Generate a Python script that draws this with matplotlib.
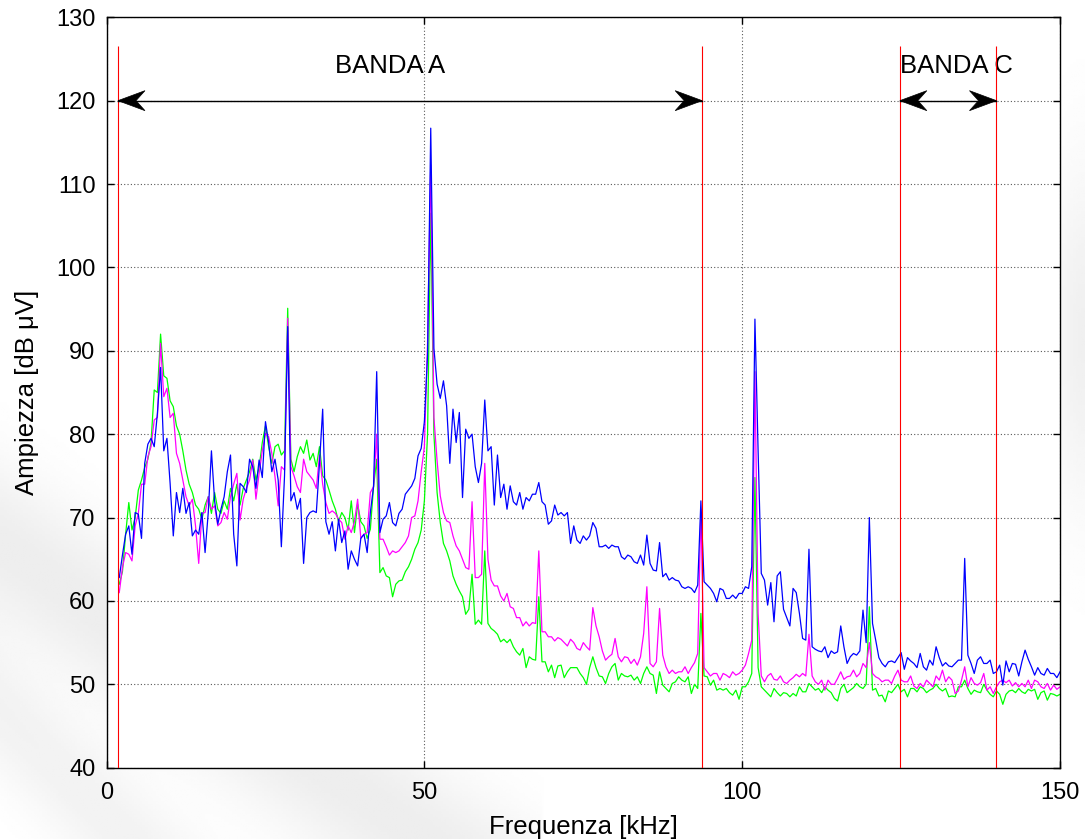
import numpy as np
import matplotlib
matplotlib.use('Agg')
import matplotlib.pyplot as plt
from matplotlib.patches import Polygon

plt.rcParams.update({'font.family': ['Liberation Sans', 'DejaVu Sans'],
                     'font.size': 17,
                     'axes.linewidth': 1.0})

# frequency bins [kHz], 0.5 kHz spacing
freq = np.arange(2.0, 150.25, 0.5)

amp_blue = [
    62.8, 65.5, 68.0, 69.0, 65.6, 70.6, 70.4, 67.5, 76.5, 78.8, 79.5, 78.5, 82.5, 88.0, 78.0, 79.5,
    74.1, 67.8, 73.0, 70.6, 73.5, 70.5, 71.8, 67.8, 68.5, 68.0, 70.6, 65.8, 70.6, 78.0, 72.0, 69.2, 71.0, 72.5, 75.5, 77.5,
    68.0, 64.2, 74.1, 73.7, 73.0, 77.0, 76.1, 73.5, 76.9, 74.8, 81.5, 79.0, 75.5, 77.0, 74.5, 66.5, 75.0, 92.9, 72.0, 73.0,
    71.0, 72.3, 64.5, 70.0, 70.6, 70.8, 70.6, 76.5, 83.0, 69.5, 68.0, 69.5, 66.0, 69.8, 67.0, 68.4, 63.8, 66.0, 65.0, 64.2,
    67.5, 68.0, 65.8, 70.6, 73.7, 87.5, 68.2, 69.8, 70.2, 71.8, 69.4, 69.0, 70.5, 71.0, 72.8, 73.3, 73.8, 74.7, 77.4, 78.3,
    81.5, 89.5, 116.7, 90.3, 86.0, 84.3, 86.4, 83.4, 76.5, 83.0, 79.0, 82.6, 72.4, 80.6, 79.5, 80.0, 76.1, 74.2, 76.5, 84.1,
    78.0, 78.5, 71.5, 77.5, 72.4, 74.0, 71.0, 73.8, 71.9, 71.5, 73.0, 71.0, 72.4, 72.0, 72.8, 72.8, 74.2, 71.9, 71.5, 69.2,
    69.6, 71.5, 70.3, 70.6, 70.2, 70.6, 66.9, 69.0, 67.3, 66.9, 67.8, 67.3, 67.8, 69.4, 68.7, 66.5, 66.5, 66.7, 66.3, 66.7,
    66.5, 66.5, 65.3, 65.0, 65.5, 65.3, 64.7, 64.5, 65.5, 64.3, 67.9, 64.5, 63.7, 63.6, 67.0, 62.9, 63.3, 62.5, 62.8, 62.5,
    62.4, 61.7, 61.5, 61.7, 61.5, 61.0, 61.9, 72.0, 62.3, 61.9, 61.5, 60.9, 59.9, 61.5, 61.3, 60.3, 60.3, 60.7, 60.3, 60.9,
    60.9, 61.7, 61.5, 64.1, 93.8, 78.0, 63.3, 62.5, 59.5, 62.2, 57.5, 63.0, 63.5, 59.0, 58.0, 57.0, 61.5, 61.0, 58.5, 55.5,
    55.3, 66.2, 54.5, 54.2, 54.0, 53.9, 54.5, 53.2, 54.0, 53.7, 53.9, 57.0, 54.5, 52.5, 53.3, 53.7, 53.5, 54.0, 58.9, 55.0,
    70.0, 57.3, 55.3, 53.2, 52.5, 52.1, 52.7, 52.8, 52.6, 53.2, 53.8, 51.8, 53.2, 52.8, 52.5, 52.0, 53.7, 52.1, 51.7, 52.9,
    52.3, 54.5, 53.2, 52.2, 52.6, 52.2, 52.1, 52.5, 52.9, 52.9, 65.1, 53.5, 52.5, 51.3, 52.9, 53.3, 52.5, 52.5, 52.9, 51.3,
    51.5, 52.3, 49.9, 52.8, 51.5, 52.5, 52.4, 51.0, 52.7, 54.1, 53.0, 52.1, 51.1, 52.0, 51.3, 51.1, 51.9, 51.3, 51.3, 50.8,
    51.5]

amp_magenta = [
    61.0, 64.0, 65.8, 65.6, 64.8, 69.0, 70.5, 74.0, 74.0, 77.3, 78.5, 81.7, 82.0, 90.9, 84.5, 85.5,
    82.0, 82.5, 77.7, 76.5, 74.5, 72.5, 71.4, 72.2, 69.0, 64.5, 70.5, 70.6, 72.5, 71.0, 71.4, 69.0, 69.4, 70.6, 69.8, 72.5,
    74.0, 75.3, 69.7, 72.2, 73.5, 74.5, 76.9, 72.2, 75.3, 78.0, 80.1, 79.7, 77.7, 74.9, 71.4, 76.1, 75.7, 93.9, 76.1, 75.0,
    73.7, 73.0, 77.0, 75.5, 75.0, 74.5, 73.5, 77.5, 74.0, 71.8, 70.5, 70.8, 70.5, 69.8, 69.4, 67.4, 69.0, 68.2, 69.5, 72.2,
    67.5, 68.0, 68.2, 73.0, 73.7, 80.0, 67.4, 67.4, 66.5, 65.5, 66.0, 65.8, 66.0, 66.5, 67.0, 67.8, 70.0, 70.2, 72.0, 75.5,
    78.5, 91.0, 112.3, 82.0, 76.8, 72.6, 70.6, 69.6, 69.4, 67.8, 66.6, 66.0, 65.0, 64.0, 63.8, 71.9, 62.8, 62.8, 63.2, 76.5,
    65.0, 62.5, 61.8, 61.8, 60.6, 60.0, 60.9, 59.3, 59.1, 58.0, 58.0, 57.0, 57.5, 57.0, 57.4, 57.3, 66.0, 56.3, 56.3, 55.7,
    55.7, 55.2, 55.6, 55.4, 55.0, 54.6, 55.4, 55.0, 54.3, 54.1, 55.0, 54.5, 54.1, 59.2, 57.0, 55.7, 54.0, 52.9, 53.3, 53.6,
    55.5, 53.3, 52.7, 53.3, 53.2, 52.5, 53.0, 52.3, 53.3, 56.1, 61.7, 52.5, 52.1, 52.7, 59.1, 53.5, 52.1, 51.3, 51.7, 51.3,
    51.5, 51.5, 52.1, 51.3, 52.0, 52.6, 53.7, 71.0, 52.0, 51.5, 51.0, 51.3, 51.3, 50.5, 51.3, 51.1, 50.8, 51.5, 51.1, 51.3,
    51.7, 52.3, 53.7, 55.3, 87.5, 58.5, 51.0, 50.3, 51.0, 51.3, 50.6, 50.5, 51.0, 50.3, 50.1, 50.5, 50.8, 51.2, 50.9, 51.3,
    51.0, 56.0, 51.0, 50.3, 50.0, 50.5, 49.3, 50.5, 50.0, 50.0, 50.7, 51.5, 50.6, 50.9, 51.0, 51.7, 50.9, 51.3, 52.5, 52.0,
    55.0, 51.3, 50.9, 50.7, 50.3, 50.5, 50.5, 50.1, 51.0, 51.7, 50.5, 50.3, 50.3, 51.0, 49.8, 49.5, 50.1, 49.7, 50.5, 50.1,
    49.7, 51.0, 50.5, 51.7, 50.3, 50.9, 50.5, 48.9, 49.2, 50.5, 52.1, 49.7, 50.8, 50.1, 49.9, 50.2, 51.3, 49.3, 49.7, 48.9,
    49.7, 50.3, 50.5, 50.2, 50.5, 49.8, 50.2, 49.7, 50.1, 49.7, 50.5, 49.5, 50.5, 50.3, 49.7, 49.5, 50.1, 49.3, 49.9, 49.4,
    49.7]

amp_green = [
    62.0, 63.5, 68.0, 71.8, 68.5, 70.0, 73.3, 74.5, 76.0, 77.0, 79.0, 85.3, 85.0, 92.0, 87.0, 86.7,
    84.0, 83.3, 81.0, 80.0, 78.0, 75.7, 74.0, 73.0, 71.5, 71.0, 69.8, 71.5, 72.5, 70.5, 73.0, 71.0, 70.5, 72.0, 71.0, 73.5,
    72.0, 74.0, 71.5, 73.5, 74.5, 75.5, 77.0, 74.5, 76.0, 79.0, 81.0, 78.5, 76.5, 78.5, 78.8, 77.5, 78.0, 95.1, 77.0, 75.5,
    77.3, 78.5, 77.7, 79.3, 76.9, 77.7, 76.1, 78.5, 75.0, 74.5, 73.3, 72.0, 71.0, 69.5, 70.6, 70.0, 68.5, 72.0, 68.2, 71.6,
    69.5, 69.0, 67.5, 68.6, 73.7, 77.0, 63.4, 64.0, 63.0, 62.8, 60.5, 62.0, 62.4, 62.5, 63.5, 64.1, 65.0, 66.2, 67.0, 68.5,
    72.0, 80.0, 106.5, 80.0, 73.0, 69.4, 66.9, 66.0, 64.8, 63.0, 62.0, 61.2, 60.5, 58.4, 59.0, 63.2, 57.2, 57.7, 57.2, 66.0,
    57.3, 56.7, 56.4, 56.0, 55.1, 55.4, 55.0, 55.4, 54.5, 53.9, 53.5, 54.3, 52.0, 53.3, 53.0, 52.9, 60.5, 52.7, 52.7, 51.5,
    52.3, 50.8, 52.2, 52.3, 50.8, 51.5, 52.0, 52.0, 52.0, 51.3, 50.8, 50.0, 52.0, 53.3, 52.0, 51.0, 50.9, 50.1, 51.3, 52.1,
    52.5, 50.5, 51.3, 51.0, 50.9, 51.1, 50.5, 50.9, 50.1, 51.3, 52.1, 51.3, 51.1, 48.9, 51.5, 49.9, 49.5, 49.1, 50.1, 50.3,
    50.9, 50.5, 50.3, 50.9, 48.9, 50.0, 49.5, 58.5, 51.0, 50.9, 49.9, 50.5, 49.3, 49.5, 49.3, 49.5, 49.0, 48.7, 49.3, 48.2,
    49.7, 49.7, 50.3, 51.3, 74.8, 52.0, 49.7, 49.3, 48.9, 48.5, 49.5, 49.0, 48.6, 49.0, 48.9, 48.5, 48.9, 48.6, 49.7, 49.1,
    49.1, 50.1, 49.7, 49.3, 49.5, 49.0, 49.7, 49.3, 49.0, 48.3, 48.0, 49.5, 50.0, 49.0, 49.3, 49.6, 50.1, 49.7, 49.5, 50.0,
    59.3, 49.3, 49.5, 48.6, 48.7, 47.9, 49.2, 49.0, 49.5, 50.0, 49.1, 49.4, 48.5, 49.5, 49.5, 49.1, 49.7, 49.5, 49.0, 49.3,
    49.5, 50.0, 49.5, 49.2, 49.5, 48.5, 48.6, 48.5, 49.7, 49.7, 50.5, 49.5, 48.8, 49.3, 49.1, 49.0, 50.0, 49.3, 48.8, 48.5,
    49.2, 48.8, 47.6, 48.8, 49.2, 49.3, 49.0, 49.5, 49.1, 48.9, 49.4, 49.2, 49.4, 48.2, 49.0, 49.2, 48.1, 48.9, 48.8, 48.6,
    48.8]

# band limits [kHz]
band_edges = [1.8, 93.7, 124.8, 140.0]
band_a = (1.8, 93.7)
band_c = (124.8, 140.0)
band_level = 120

fig = plt.figure(figsize=(10.85, 8.39), dpi=100, facecolor='white')

# soft grey slide background behind the plot
bg = fig.add_axes([0, 0, 1, 1], zorder=-10)
gx, gy = np.meshgrid(np.linspace(0, 1, 400), np.linspace(0, 1, 320))
shade = (0.07 * np.exp(-((gx * 0.9 + gy - 0.35) / 0.10) ** 2) * (gx < 0.5)
         + 0.05 * np.exp(-((gx * 1.3 + gy - 0.15) / 0.08) ** 2)
         + 0.06 * np.exp(-((gx - 1.0) / 0.03) ** 2 - ((gy - 0.6) / 0.2) ** 2))
bg.imshow(1 - shade, cmap='gray', vmin=0, vmax=1, origin='lower',
          extent=[0, 1, 0, 1], aspect='auto', interpolation='bilinear')
bg.set_axis_off()

ax = fig.add_axes([0.0982, 0.0850, 0.8788, 0.8944])

ax.plot(freq, amp_green, color=(0, 1, 0), lw=0.9)
ax.plot(freq, amp_magenta, color=(1, 0, 1), lw=0.9)
ax.plot(freq, amp_blue, color=(0, 0, 1), lw=0.9)

ax.vlines(band_edges, 40, 126.5, colors='red', lw=0.8, zorder=5)

ax.set_xlim(0, 150)
ax.set_ylim(40, 130)


def arrow_head(x_tip, y, direction):
    # notched arrow head, sizes in pixels
    length, half_w, notch = 27, 10, 9
    tx, ty = ax.transData.transform((x_tip, y))
    d = direction
    pts = [(tx, ty), (tx - d * length, ty + half_w),
           (tx - d * (length - notch), ty), (tx - d * length, ty - half_w)]
    pts = ax.transData.inverted().transform(pts)
    ax.add_patch(Polygon(pts, closed=True, facecolor='k', edgecolor='k', lw=0.5, zorder=7))


for lo, hi in (band_a, band_c):
    ax.plot([lo, hi], [band_level, band_level], color='k', lw=1.0, zorder=6)
    arrow_head(lo, band_level, -1)
    arrow_head(hi, band_level, 1)

ax.text(44.6, 124.2, 'BANDA A', ha='center', va='center', fontsize=18.5)
ax.text(133.7, 124.2, 'BANDA C', ha='center', va='center', fontsize=18.5)

ax.set_xticks([0, 50, 100, 150])
ax.set_yticks(np.arange(40, 131, 10))
ax.grid(True, color='0.35', linestyle=(0, (1, 2)), lw=0.8)
ax.tick_params(direction='in', top=True, right=True, length=5, width=1, labelsize=17)
ax.tick_params(axis='x', pad=10)
ax.tick_params(axis='y', pad=8)

ax.set_xlabel('Frequenza [kHz]', fontsize=18.5, labelpad=8)
ax.set_ylabel('Ampiezza [dB μV]', fontsize=18.5, labelpad=12)

fig.savefig('out.png', dpi=100, facecolor=fig.get_facecolor())
